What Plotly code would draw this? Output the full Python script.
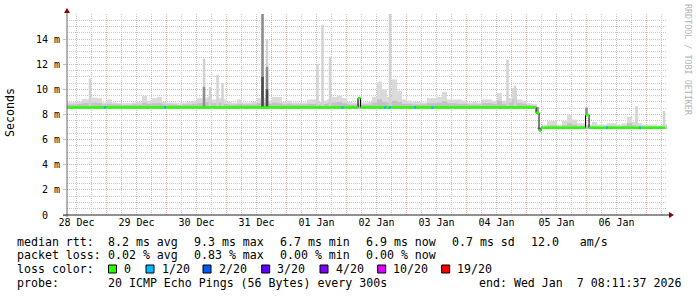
import plotly.graph_objects as go
from datetime import datetime, timedelta

# ---------------- data ----------------
START = datetime(2025, 12, 28, 8, 11, 37)
END = datetime(2026, 1, 7, 8, 11, 37)

y_tick_vals = [0, 2, 4, 6, 8, 10, 12, 14]
y_tick_text = ["0\u00a0\u00a0", "2 m", "4 m", "6 m", "8 m", "10 m", "12 m", "14 m"]

# smoke per 2-hour bin (ms): upper edge of light smoke, upper edge of denser smoke, lower edge
smoke_hi = [
    8.97, 8.97, 9.0, 9.25, 9.2, 9.35, 9.3, 8.95, 9.2, 8.95,
    8.9, 8.9, 8.9, 8.95, 9.0, 9.5, 9.1, 9.3, 9.4, 9.0,
    8.95, 8.95, 8.9, 8.95, 9.0, 9.1, 9.3, 9.3, 9.4, 9.2,
    9.3, 9.2, 9.0, 8.95, 9.2, 8.95, 8.95, 9.0, 9.3, 9.3,
    9.1, 9.4, 9.4, 9.0, 9.1, 8.95, 8.95, 8.95, 9.2, 9.2,
    9.0, 9.1, 9.2, 9.4, 9.5, 9.3, 9.0, 8.95, 9.2, 8.95,
    9.0, 9.4, 10.6, 10.0, 9.4, 10.8, 9.9, 9.2, 9.1, 9.0,
    9.0, 8.95, 9.3, 9.3, 9.4, 9.8, 9.2, 9.2, 9.2, 9.1,
    8.95, 9.0, 8.95, 9.2, 9.2, 9.1, 9.7, 9.1, 9.3, 10.1,
    9.2, 9.1, 8.9, 8.85, 6.95, 7.2, 7.5, 7.5, 7.2, 7.5,
    8.0, 7.6, 7.3, 7.3, 7.2, 7.4, 7.2, 7.2, 7.3, 7.3,
    7.2, 7.3, 7.8, 7.4, 7.3, 7.2, 7.2, 7.2, 7.15, 7.2,
]
smoke_mid = [
    8.8, 8.8, 8.85, 8.9, 8.9, 8.95, 8.9, 8.8, 8.85, 8.8,
    8.8, 8.75, 8.75, 8.8, 8.8, 8.95, 8.85, 8.9, 8.9, 8.8,
    8.8, 8.8, 8.75, 8.8, 8.8, 8.85, 8.9, 8.95, 9.0, 8.9,
    8.95, 8.85, 8.8, 8.8, 8.85, 8.8, 8.8, 8.8, 8.9, 8.95,
    8.85, 8.95, 8.9, 8.8, 8.85, 8.8, 8.8, 8.8, 8.85, 8.85,
    8.8, 8.85, 8.9, 8.95, 9.0, 8.9, 8.8, 8.8, 8.85, 8.8,
    8.8, 8.95, 9.2, 9.0, 8.95, 9.1, 9.0, 8.85, 8.85, 8.8,
    8.8, 8.8, 8.9, 8.9, 8.95, 9.05, 8.9, 8.9, 8.85, 8.85,
    8.8, 8.8, 8.8, 8.9, 8.9, 8.85, 9.1, 8.85, 8.95, 9.2,
    8.9, 8.85, 8.75, 8.7, 6.9, 7.05, 7.15, 7.15, 7.05, 7.15,
    7.3, 7.2, 7.1, 7.1, 7.05, 7.1, 7.05, 7.05, 7.1, 7.1,
    7.05, 7.1, 7.3, 7.15, 7.1, 7.05, 7.05, 7.05, 7.05, 7.05,
]
smoke_lo = [8.45] * 94 + [6.85] * 26

# narrow smoke spikes
spike_times = ["2025-12-28 17:24", "2025-12-30 15:00", "2025-12-30 17:24", "2025-12-30 20:24",
               "2025-12-30 22:24", "2025-12-31 14:24", "2025-12-31 16:12", "2026-01-01 12:24",
               "2026-01-01 14:24", "2026-01-01 17:24", "2026-01-02 17:24", "2026-01-04 16:24",
               "2026-01-04 19:24", "2026-01-05 04:24", "2026-01-06 00:00", "2026-01-06 20:00",
               "2026-01-07 07:00"]
spike_lo = [8.5, 8.5, 8.5, 8.5, 8.5, 8.5, 8.5, 8.5, 8.5, 8.5, 8.5, 8.5, 8.5, 8.1, 7.9, 6.9, 6.9]
spike_top = [10.86, 12.45, 10.2, 11.17, 10.5, 16.0, 14.0, 12.0, 15.15, 12.6, 16.0, 12.37,
             10.3, 8.6, 8.55, 8.65, 8.26]
spike_core = [8.5, 10.2, 8.5, 8.5, 8.5, 16.0, 11.8, 8.5, 8.5, 8.5, 8.5, 8.5, 8.5, 8.6, 8.55, 6.9, 6.9]
spike_deep = [8.5, 8.5, 8.5, 8.5, 8.5, 11.0, 10.0, 8.5, 8.5, 8.5, 8.5, 8.5, 8.5, 8.1, 7.9, 6.9, 6.9]

# median rtt as a step function (change time, value ms)
median_times = ["2025-12-28 08:11:37", "2026-01-02 04:36", "2026-01-02 05:36", "2026-01-05 03:48",
                "2026-01-05 05:00", "2026-01-05 05:48", "2026-01-05 23:36", "2026-01-06 01:00",
                "2026-01-07 07:24"]
median_vals = [8.56, 9.3, 8.56, 8.13, 6.72, 6.94, 7.96, 6.94, 6.94]

# intervals with 1/20 packet loss
loss_times = ["2025-12-28 23:24", "2025-12-29 23:24", "2026-01-01 22:24", "2026-01-02 15:24",
              "2026-01-02 17:24", "2026-01-03 03:24", "2026-01-03 10:24", "2026-01-06 08:12",
              "2026-01-06 21:24"]

loss_labels = ["0", "1/20", "2/20", "3/20", "4/20", "10/20", "19/20"]
loss_colors = ["#26ff00", "#00b8ff", "#0059ff", "#5e00ff", "#7e00ff", "#dd00ff", "#ff0000"]

rtt_stats = [("8.2", "avg"), ("9.3", "max"), ("6.7", "min"), ("6.9", "now"), ("0.7", "sd")]
am_s = "12.0"
loss_stats = [("0.02", "avg"), ("0.83", "max"), ("0.00", "min"), ("0.00", "now")]
probe_text = "20 ICMP Echo Pings (56 Bytes) every 300s"
end_text = "end: Wed Jan\u00a0\u00a07 08:11:37 2026"

# ---------------- geometry / style ----------------
W, H = 697, 297
ML, MR, MT, MB = 67, 30, 14, 82
PW, PH = W - ML - MR, H - MT - MB
FONT = "DejaVu Sans Mono"
FS = 11.6
AFS = 10
PX_MS = 24 * 60 * 1000  # one pixel = 24 minutes
MAJ = "#eab0b0"
MIN = "#c8c8c8"
DOTS = "1px,1px"


def px(x):
    return (x - ML) / PW


def py(y):
    return (H - MB - y) / PH


def pt(s):
    return datetime.fromisoformat(s)


fig = go.Figure()

# smoke
bin_centers = [START + timedelta(hours=2) * i + timedelta(hours=1) for i in range(len(smoke_hi))]
bw = [2 * 3600 * 1000] * len(smoke_hi)
fig.add_trace(go.Bar(x=bin_centers, base=smoke_lo, y=[h - l for h, l in zip(smoke_hi, smoke_lo)],
                     width=bw, marker=dict(color="#dadada", line=dict(width=0))))
fig.add_trace(go.Bar(x=bin_centers, base=smoke_lo, y=[m - l for m, l in zip(smoke_mid, smoke_lo)],
                     width=bw, marker=dict(color="#c2c2c2", line=dict(width=0))))

sx = [pt(s) for s in spike_times]
sw = [2.5 * PX_MS] * len(sx)
fig.add_trace(go.Bar(x=sx, base=spike_lo, y=[a - b for a, b in zip(spike_top, spike_lo)],
                     width=sw, marker=dict(color="#d2d2d2", line=dict(width=0))))
fig.add_trace(go.Bar(x=sx, base=spike_lo, y=[a - b for a, b in zip(spike_core, spike_lo)],
                     width=sw, marker=dict(color="#8e8e8e", line=dict(width=0))))
fig.add_trace(go.Bar(x=sx, base=spike_lo, y=[a - b for a, b in zip(spike_deep, spike_lo)],
                     width=sw, marker=dict(color="#4a4a4a", line=dict(width=0))))

# median: black step line, coloured horizontal segments
mt = [pt(s) for s in median_times]
fig.add_trace(go.Scatter(x=mt, y=median_vals, mode="lines", line_shape="hv",
                         line=dict(color="#000000", width=1), hoverinfo="skip"))
gx, gy = [], []
for i in range(len(mt) - 1):
    gx += [mt[i], mt[i + 1], None]
    gy += [median_vals[i], median_vals[i], None]
fig.add_trace(go.Scatter(x=gx, y=gy, mode="lines", line=dict(color=loss_colors[0], width=2.6),
                         hoverinfo="skip"))


def median_at(t):
    val = median_vals[0]
    for tt, vv in zip(mt, median_vals):
        if tt <= t:
            val = vv
    return val


bx, by = [], []
for s in loss_times:
    t = pt(s)
    m = median_at(t)
    bx += [t - timedelta(minutes=24), t + timedelta(minutes=24), None]
    by += [m, m, None]
fig.add_trace(go.Scatter(x=bx, y=by, mode="lines", line=dict(color=loss_colors[1], width=2.6),
                         hoverinfo="skip"))

# ---------------- layout ----------------
shapes = []
# axes
shapes.append(dict(type="line", xref="paper", yref="paper", x0=px(67), x1=px(67), y0=py(217),
                   y1=py(12), line=dict(color="#666666", width=1)))
shapes.append(dict(type="line", xref="paper", yref="paper", x0=px(63), x1=px(670), y0=py(215),
                   y1=py(215), line=dict(color="#222222", width=1)))
# arrows
shapes.append(dict(type="path", xref="paper", yref="paper",
                   path=f"M {px(64)} {py(13)} L {px(70)} {py(13)} L {px(67)} {py(8)} Z",
                   fillcolor="#8b0000", line=dict(width=0)))
shapes.append(dict(type="path", xref="paper", yref="paper",
                   path=f"M {px(669)} {py(212)} L {px(669)} {py(218)} L {px(674)} {py(215)} Z",
                   fillcolor="#8b0000", line=dict(width=0)))

ann = []


def text(s, x, y, **kw):
    d = dict(text=s.replace("  ", "\u00a0\u00a0"), x=px(x), y=py(y), xref="paper", yref="paper",
             xanchor="left", yanchor="middle", showarrow=False, borderpad=0,
             font=dict(family=FONT, size=FS, color="#000000"))
    d.update(kw)
    ann.append(d)


# y tick labels placed on the y axis scale
for v, lab in zip(y_tick_vals, y_tick_text):
    ann.append(dict(text=lab, x=px(61), y=v, xref="paper", yref="y", xanchor="right",
                    yanchor="middle", showarrow=False, borderpad=0,
                    font=dict(family=FONT, size=AFS, color="#000000")))

y1, y2, y3, y4 = 241.7, 255.3, 269.0, 282.5
cols = [107, 193, 279, 365, 451]
text("median rtt:", 16, y1)
for (val, lab), c in zip(rtt_stats, cols):
    text(f"{val} ms {lab}", c, y1)
text(f"{am_s}\u00a0\u00a0\u00a0am/s", 530, y1)
text("packet loss:", 16, y2)
for (val, lab), c in zip(loss_stats, cols):
    text(f"{val} % {lab}", c, y2)
text("loss color:", 16, y3)
box_left = [108.5, 146, 203, 261.7, 320, 377.7, 441.7]
for lab, colr, bl in zip(loss_labels, loss_colors, box_left):
    shapes.append(dict(type="rect", xref="paper", yref="paper", x0=px(bl), x1=px(bl + 8),
                       y0=py(273), y1=py(265), fillcolor=colr, line=dict(color="#000000", width=1)))
    text(lab, bl + 14.5, y3)
text("probe:", 16, y4)
text(probe_text, 107, y4)
text(end_text, 478, y4)

ann.append(dict(text="Seconds", x=px(10), y=py(113), xref="paper", yref="paper", showarrow=False,
                xanchor="center", yanchor="middle", textangle=-90,
                font=dict(family=FONT, size=FS, color="#000000")))
ann.append(dict(text="RRDTOOL / TOBI OETIKER", x=px(688), y=py(60), xref="paper", yref="paper",
                showarrow=False, xanchor="center", yanchor="middle", textangle=90,
                font=dict(family=FONT, size=8.4, color="#b4b4b4")))

DAY = 86400000
fig.update_layout(
    width=W, height=H, margin=dict(l=ML, r=MR, t=MT, b=MB, pad=0),
    paper_bgcolor="#ffffff", plot_bgcolor="#ffffff", showlegend=False, barmode="overlay",
    shapes=shapes, annotations=ann,
    xaxis=dict(type="date", range=[START, END], tick0="2025-12-29", dtick=DAY,
               tickformat="%d %b", ticklabelmode="period",
               showgrid=True, gridcolor=MAJ, griddash=DOTS, gridwidth=1,
               minor=dict(tick0="2025-12-29", dtick=DAY / 4, showgrid=True, gridcolor=MIN,
                          griddash=DOTS, gridwidth=1, ticks=""),
               zeroline=False, showline=False, ticks="", layer="below traces",
               tickfont=dict(family=FONT, size=AFS, color="#000000"), fixedrange=True),
    yaxis=dict(range=[0, 16], tickvals=y_tick_vals, showticklabels=False,
               showgrid=True, gridcolor=MAJ, griddash=DOTS, gridwidth=1,
               minor=dict(tick0=0, dtick=0.5, showgrid=True, gridcolor=MIN, griddash=DOTS,
                          gridwidth=1, ticks=""),
               zeroline=False, showline=False, ticks="outside", ticklen=3, tickcolor=MAJ,
               layer="below traces", fixedrange=True),
)

fig.write_html("out.html")
